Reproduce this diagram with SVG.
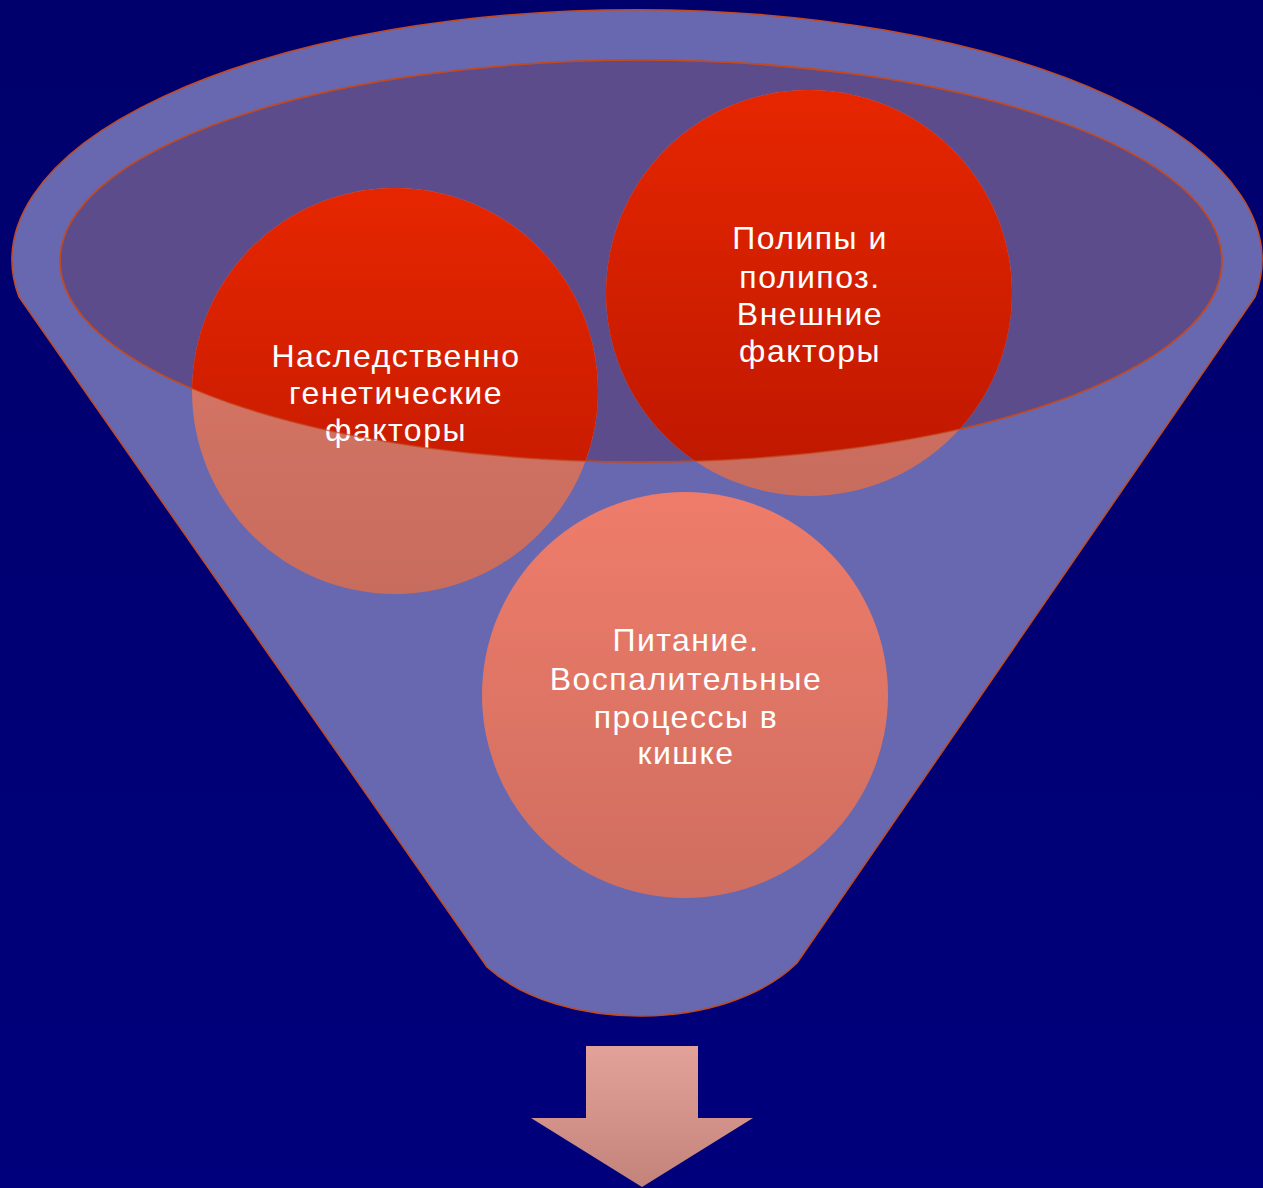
<svg xmlns="http://www.w3.org/2000/svg" width="1263" height="1188" viewBox="0 0 1263 1188">
<defs>
<style>
.lbl{font-family:"Liberation Sans",Arial,sans-serif;font-size:32px;letter-spacing:1.5px;fill:#ffffff;text-anchor:middle}
.edge{stroke:#c24a22;stroke-width:1.5}
</style>
<linearGradient id="bg" x1="0" y1="0" x2="0" y2="1">
<stop offset="0" stop-color="#00006c"/>
<stop offset="1" stop-color="#00007c"/>
</linearGradient>
<linearGradient id="red" x1="0" y1="0" x2="0" y2="1">
<stop offset="0" stop-color="#e62600"/>
<stop offset="1" stop-color="#bd1700"/>
</linearGradient>
<linearGradient id="salmonL" x1="0" y1="0" x2="0" y2="1">
<stop offset="0" stop-color="#dc7a68"/>
<stop offset="1" stop-color="#c86c5e"/>
</linearGradient>
<linearGradient id="salmonB" x1="0" y1="0" x2="0" y2="1">
<stop offset="0" stop-color="#ef7c6a"/>
<stop offset="1" stop-color="#cf6e60"/>
</linearGradient>
<linearGradient id="arrowG" x1="0" y1="0" x2="0" y2="1">
<stop offset="0" stop-color="#e2a29a"/>
<stop offset="1" stop-color="#c4837a"/>
</linearGradient>
<clipPath id="mouth">
<ellipse cx="641" cy="261" rx="581" ry="201"/>
</clipPath>
</defs>
<rect x="0" y="0" width="1263" height="1188" fill="url(#bg)"/>
<g id="funnel">
<path class="edge" fill="#6868b0" d="M19 297 A625 250 0 1 1 1255 297 L797 963 C725 1033 560 1033 487 967 Z"/>
<ellipse class="edge" cx="641" cy="261" rx="581" ry="201" fill="#5d4c8c"/>
</g>
<g id="node-hereditary">
<circle cx="395" cy="391" r="203" fill="url(#salmonL)"/>
<circle cx="395" cy="391" r="203" fill="url(#red)" clip-path="url(#mouth)"/>
<text class="lbl" x="396" y="367">Наследственно</text>
<text class="lbl" x="396" y="404">генетические</text>
<text class="lbl" x="396" y="441">факторы</text>
</g>
<g id="node-polyps">
<circle cx="809" cy="293" r="203" fill="url(#salmonL)"/>
<circle cx="809" cy="293" r="203" fill="url(#red)" clip-path="url(#mouth)"/>
<text class="lbl" x="810" y="249">Полипы и</text>
<text class="lbl" x="810" y="288">полипоз.</text>
<text class="lbl" x="810" y="325">Внешние</text>
<text class="lbl" x="810" y="362">факторы</text>
</g>
<g id="node-nutrition">
<circle cx="685" cy="695" r="203" fill="url(#salmonB)"/>
<text class="lbl" x="686" y="651">Питание.</text>
<text class="lbl" x="686" y="690">Воспалительные</text>
<text class="lbl" x="686" y="728">процессы в</text>
<text class="lbl" x="686" y="764">кишке</text>
</g>
<ellipse class="edge" cx="641" cy="261" rx="581" ry="201" fill="none" stroke-opacity="0.7"/>
<g id="connectors">
<path fill="url(#arrowG)" d="M586 1046 L698 1046 L698 1118 L753 1118 L642 1187 L531 1118 L586 1118 Z"/>
</g>
</svg>
